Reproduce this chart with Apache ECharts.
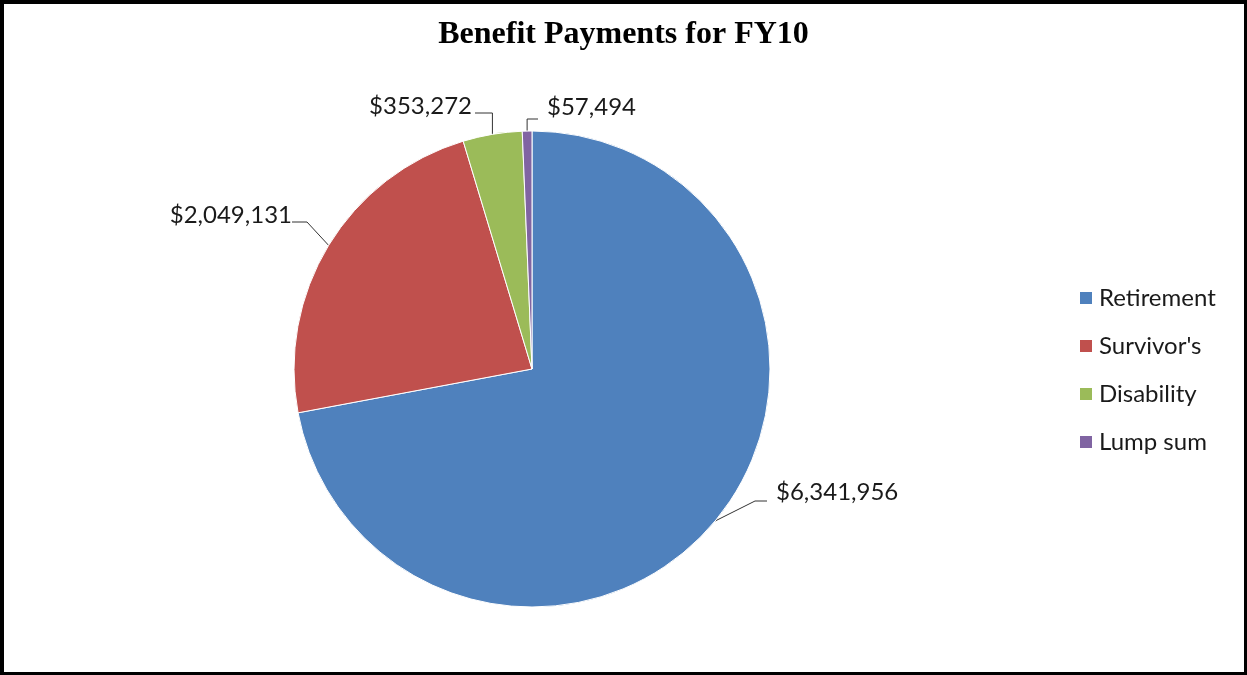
<!DOCTYPE html>
<html>
<head>
<meta charset="utf-8">
<script src="https://cdn.jsdelivr.net/npm/echarts@6/dist/echarts.min.js"></script>
<style>
html,body{margin:0;padding:0;background:#fff;}
#chart{position:absolute;left:0;top:0;width:1247px;height:675px;}
#frame{position:absolute;left:0;top:0;width:1247px;height:675px;box-sizing:border-box;border-style:solid;border-color:#000;border-width:4px 3px 3px 4px;pointer-events:none;}
</style>
</head>
<body>
<div id="chart"></div>
<div id="frame"></div>
<script>
const categories = ["Retirement", "Survivor's", "Disability", "Lump sum"];
const values = [6341956, 2049131, 353272, 57494];
const colors = ['#4F81BD', '#C0504D', '#9BBB59', '#8064A2'];
const titleText = 'Benefit Payments for FY10';

// label placement (layout only): anchor x, center y, alignment, leader style
const labelPlace = [
  {x: 776, y: 492, align: 'left', kind: 'side', dy: 9, gap: 9, run: 12},
  {x: 292, y: 215, align: 'right', kind: 'side', dy: 7, gap: 0, run: 15},
  {x: 472, y: 106, align: 'right', kind: 'top', dy: 7, gap: 3},
  {x: 547, y: 107, align: 'left', kind: 'top', dy: 12, gap: 9}
];

const fmt = v => '$' + v.toLocaleString('en-US');
const chart = echarts.init(document.getElementById('chart'));
const labelFont = 'Lato, "Open Sans", sans-serif';

chart.setOption({
  animation: false,
  backgroundColor: '#fff',
  color: colors,
  title: {
    text: titleText,
    left: 'center',
    top: 19,
    padding: 0,
    textStyle: {fontFamily: '"Liberation Serif", "Times New Roman", serif', fontWeight: 'bold', fontSize: 32, color: '#000'}
  },
  legend: {
    orient: 'vertical',
    left: 1075,
    top: 281,
    itemWidth: 12,
    itemHeight: 12,
    itemGap: 24,
    icon: 'rect',
    itemStyle: {borderWidth: 0},
    data: categories,
    textStyle: {fontFamily: labelFont, fontSize: 24, lineHeight: 24, color: '#1a1a1a', padding: [0, 0, 0, 2]}
  },
  series: [{
    type: 'pie',
    center: [532, 369],
    radius: 238,
    startAngle: 90,
    clockwise: true,
    itemStyle: {borderColor: '#fff', borderWidth: 1},
    label: {
      show: true,
      position: 'outside',
      formatter: p => fmt(p.value),
      fontFamily: labelFont,
      fontSize: 24,
      color: '#1a1a1a'
    },
    labelLine: {show: true, length: 15, length2: 10, lineStyle: {color: '#333', width: 1}},
    labelLayout: function (params) {
      const L = labelPlace[params.dataIndex];
      const p0 = params.labelLinePoints ? params.labelLinePoints[0] : [0, 0];
      let pts;
      const ly = L.y + L.dy;
      if (L.kind === 'side') {
        const endX = L.align === 'left' ? L.x - L.gap : L.x + L.gap;
        const midX = L.align === 'left' ? endX - L.run : endX + L.run;
        pts = [p0, [midX, ly], [endX, ly]];
      } else {
        const endX = L.align === 'left' ? L.x - L.gap : L.x + L.gap;
        pts = [p0, [p0[0], ly], [endX, ly]];
      }
      return {x: L.x, y: L.y, align: L.align, verticalAlign: 'middle', labelLinePoints: pts};
    },
    data: categories.map((c, i) => ({name: c, value: values[i]}))
  }]
});
</script>
</body>
</html>
